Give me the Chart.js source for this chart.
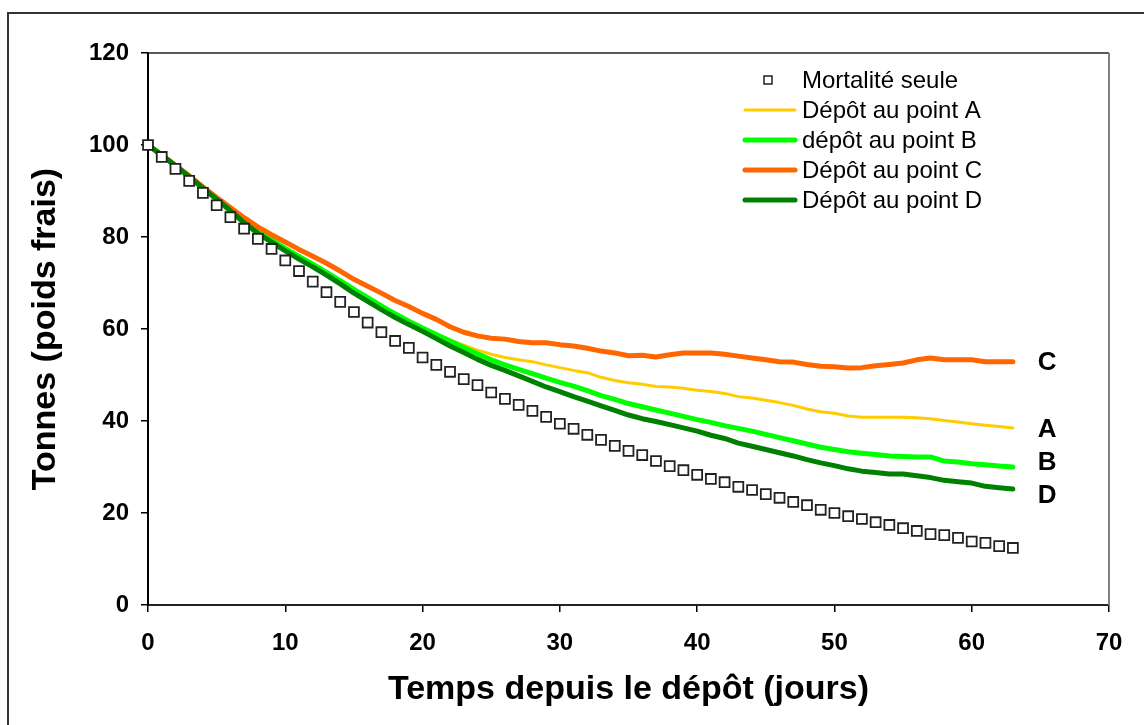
<!DOCTYPE html>
<html lang="fr">
<head>
<meta charset="utf-8">
<title>Tonnes (poids frais) - temps depuis le dépôt</title>
<script src="https://cdn.jsdelivr.net/npm/chart.js@4.4.1/dist/chart.umd.min.js"></script>
<style>
  html, body { margin: 0; padding: 0; background: #fff; }
  canvas { display: block; }
</style>
</head>
<body>
<canvas id="chart" width="1144" height="725"></canvas>
<script>
// jours depuis le dépôt
const jours = [
  0, 1, 2, 3, 4, 5, 6, 7, 8, 9, 10, 11, 12, 13, 14, 15, 16, 17, 18, 19,
  20, 21, 22, 23, 24, 25, 26, 27, 28, 29, 30, 31, 32, 33, 34, 35, 36, 37, 38, 39,
  40, 41, 42, 43, 44, 45, 46, 47, 48, 49, 50, 51, 52, 53, 54, 55, 56, 57, 58, 59,
  60, 61, 62, 63
];

const mortaliteSeule = [
  100, 97.4, 94.8, 92.2, 89.6, 86.9, 84.3, 81.8, 79.6, 77.4, 74.9, 72.6, 70.3, 68.0, 65.9, 63.7, 61.4, 59.3, 57.4, 55.9,
  53.8, 52.2, 50.7, 49.1, 47.8, 46.2, 44.8, 43.5, 42.2, 40.9, 39.4, 38.3, 37.0, 35.9, 34.6, 33.5, 32.6, 31.3, 30.2, 29.3,
  28.3, 27.4, 26.7, 25.7, 25.0, 24.1, 23.3, 22.4, 21.7, 20.7, 20.0, 19.3, 18.7, 18.0, 17.4, 16.7, 16.1, 15.4, 15.2, 14.6,
  13.8, 13.5, 12.8, 12.4
];

const depotA = [
  100, 97.8, 95.6, 93.3, 90.9, 88.5, 86.0, 83.5, 81.3, 79.4, 77.6, 75.9, 74.2, 72.4, 70.6, 68.7, 66.9, 65.1, 63.4, 61.8,
  60.3, 58.9, 57.7, 56.5, 55.4, 54.5, 53.8, 53.3, 52.9, 52.2, 51.6, 51.0, 50.5, 49.5, 48.8, 48.3, 48.0, 47.5, 47.4, 47.1,
  46.7, 46.4, 46.0, 45.3, 45.0, 44.5, 44.0, 43.4, 42.6, 42.0, 41.7, 41.1, 40.8, 40.8, 40.8, 40.8, 40.7, 40.5, 40.1, 39.8,
  39.4, 39.1, 38.8, 38.5
];

const depotB = [
  100, 97.8, 95.5, 93.2, 90.8, 88.4, 85.9, 83.4, 81.2, 79.3, 77.5, 75.8, 74.1, 72.3, 70.5, 68.6, 66.8, 65.0, 63.3, 61.7,
  60.2, 58.8, 57.4, 56.0, 54.6, 53.3, 52.2, 51.2, 50.3, 49.3, 48.4, 47.6, 46.6, 45.5, 44.7, 43.8, 43.1, 42.4, 41.7, 41.0,
  40.3, 39.7, 39.0, 38.4, 37.8, 37.1, 36.4, 35.7, 35.0, 34.3, 33.8, 33.3, 33.0, 32.7, 32.4, 32.3, 32.2, 32.2, 31.3, 31.1,
  30.7, 30.5, 30.2, 30.0
];

const depotC = [
  100, 97.8, 95.6, 93.3, 90.9, 88.6, 86.4, 84.2, 82.2, 80.5, 78.9, 77.3, 75.8, 74.3, 72.6, 70.8, 69.3, 67.8, 66.2, 64.9,
  63.4, 62.1, 60.5, 59.3, 58.5, 58.0, 57.8, 57.3, 57.0, 57.0, 56.6, 56.3, 55.8, 55.2, 54.8, 54.2, 54.3, 53.9, 54.4, 54.8,
  54.8, 54.8, 54.5, 54.1, 53.7, 53.3, 52.9, 52.8, 52.3, 51.9, 51.8, 51.5, 51.6, 52.0, 52.3, 52.6, 53.3, 53.7, 53.3, 53.3,
  53.3, 52.9, 52.9, 52.9
];

const depotD = [
  100, 97.8, 95.5, 93.1, 90.6, 88.2, 85.7, 83.1, 80.8, 78.9, 77.0, 75.2, 73.5, 71.7, 69.8, 67.8, 66.0, 64.2, 62.5, 61.0,
  59.5, 57.9, 56.3, 54.9, 53.4, 52.1, 51.0, 49.8, 48.6, 47.4, 46.4, 45.3, 44.3, 43.3, 42.3, 41.3, 40.5, 39.9, 39.2, 38.5,
  37.8, 36.9, 36.2, 35.2, 34.5, 33.8, 33.1, 32.4, 31.6, 30.9, 30.3, 29.6, 29.1, 28.8, 28.5, 28.5, 28.1, 27.7, 27.1, 26.8,
  26.5, 25.8, 25.5, 25.2
];

// étiquettes à droite des courbes
const etiquettes = ["C", "A", "B", "D"];
const etiquettesY = [52.6, 38.0, 30.9, 23.7];
const etiquettesX = 65.5;

const POLICE = "'Liberation Sans', Arial, sans-serif";

function points(serie) {
  return jours.map((j, i) => ({ x: j, y: serie[i] }));
}

function courbe(label, data, couleur, epaisseur, ordre) {
  return {
    label: label,
    data: points(data),
    borderColor: couleur,
    backgroundColor: couleur,
    borderWidth: epaisseur,
    pointRadius: 0,
    tension: 0,
    fill: false,
    borderJoinStyle: "round",
    borderCapStyle: "round",
    order: ordre,
  };
}

// cadre extérieur, bord du graphique, légende et lettres
const decor = {
  id: "decor",
  beforeDraw(chart) {
    const ctx = chart.ctx;
    ctx.save();
    ctx.fillStyle = "#fff";
    ctx.fillRect(0, 0, chart.width, chart.height);
    ctx.strokeStyle = "#333";
    ctx.lineWidth = 2;
    ctx.beginPath();
    ctx.moveTo(8, chart.height);
    ctx.lineTo(8, 13);
    ctx.lineTo(chart.width, 13);
    ctx.stroke();
    ctx.restore();
  },
  beforeDatasetsDraw(chart) {
    const { ctx, chartArea } = chart;
    ctx.save();
    ctx.lineWidth = 1.5;
    ctx.strokeStyle = "#222";
    ctx.beginPath();
    ctx.moveTo(chartArea.left, chartArea.top);
    ctx.lineTo(chartArea.right, chartArea.top);
    ctx.stroke();
    ctx.lineWidth = 2;
    ctx.strokeStyle = "#808080";
    ctx.beginPath();
    ctx.moveTo(chartArea.right, chartArea.top);
    ctx.lineTo(chartArea.right, chartArea.bottom);
    ctx.stroke();
    ctx.restore();
  },
  afterDraw(chart) {
    const ctx = chart.ctx;
    const ds = chart.data.datasets;
    ctx.save();
    ctx.font = "24px " + POLICE;
    ctx.textBaseline = "middle";
    ctx.textAlign = "left";
    ds.forEach((d, i) => {
      const y = 80 + i * 30;
      if (d.showLine === false) {
        ctx.fillStyle = "#fff";
        ctx.strokeStyle = "#222";
        ctx.lineWidth = 1.5;
        ctx.fillRect(764, y - 4, 8, 8);
        ctx.strokeRect(764, y - 4, 8, 8);
      } else {
        ctx.strokeStyle = d.borderColor;
        ctx.lineWidth = d.borderWidth;
        ctx.lineCap = "round";
        ctx.beginPath();
        ctx.moveTo(745, y);
        ctx.lineTo(795, y);
        ctx.stroke();
      }
      ctx.fillStyle = "#000";
      ctx.fillText(d.label, 802, y + 1);
    });

    const x = chart.scales.x;
    const yS = chart.scales.y;
    ctx.font = "bold 26px " + POLICE;
    ctx.textAlign = "center";
    etiquettes.forEach((t, i) => {
      ctx.fillText(t, x.getPixelForValue(etiquettesX), yS.getPixelForValue(etiquettesY[i]));
    });
    ctx.restore();
  },
};

document.addEventListener("DOMContentLoaded", () => {
  const ctx = document.getElementById("chart").getContext("2d");
  new Chart(ctx, {
    type: "line",
    data: {
      datasets: [
        {
          label: "Mortalité seule",
          data: points(mortaliteSeule),
          showLine: false,
          pointStyle: "rect",
          pointRadius: 7,
          pointBackgroundColor: "#fff",
          pointBorderColor: "#222",
          pointBorderWidth: 1.8,
          clip: false,
          order: 0,
        },
        courbe("Dépôt au point A", depotA, "#FFCC00", 3, 4),
        courbe("dépôt au point B", depotB, "#00FF00", 5, 3),
        courbe("Dépôt au point C", depotC, "#FF6600", 5, 2),
        courbe("Dépôt au point D", depotD, "#008000", 5, 1),
      ],
    },
    options: {
      responsive: false,
      animation: false,
      layout: { padding: { top: 53, right: 35, left: 0, bottom: 0 } },
      plugins: {
        legend: { display: false },
        tooltip: { enabled: false },
      },
      scales: {
        x: {
          type: "linear",
          min: 0,
          max: 70,
          ticks: {
            stepSize: 10,
            color: "#000",
            padding: 17,
            maxRotation: 0,
            font: { family: POLICE, size: 24, weight: "bold" },
          },
          grid: { drawOnChartArea: false, tickLength: 7, color: "#000", lineWidth: 1.5 },
          border: { color: "#222", width: 2 },
          title: {
            display: true,
            text: "Temps depuis le dépôt (jours)",
            color: "#000",
            padding: { top: 0, bottom: 15 },
            font: { family: POLICE, size: 34, weight: "bold" },
          },
          afterFit(scale) { scale.height = 120; },
        },
        y: {
          min: 0,
          max: 120,
          ticks: {
            stepSize: 20,
            color: "#000",
            padding: 12,
            font: { family: POLICE, size: 24, weight: "bold" },
          },
          grid: { drawOnChartArea: false, tickLength: 7, color: "#000", lineWidth: 1.5 },
          border: { color: "#000", width: 2 },
          title: {
            display: true,
            text: "Tonnes (poids frais)",
            color: "#000",
            padding: { top: 25, bottom: 0 },
            font: { family: POLICE, size: 34, weight: "bold" },
          },
          afterFit(scale) { scale.width = 148; },
        },
      },
    },
    plugins: [decor],
  });
});
</script>
</body>
</html>
